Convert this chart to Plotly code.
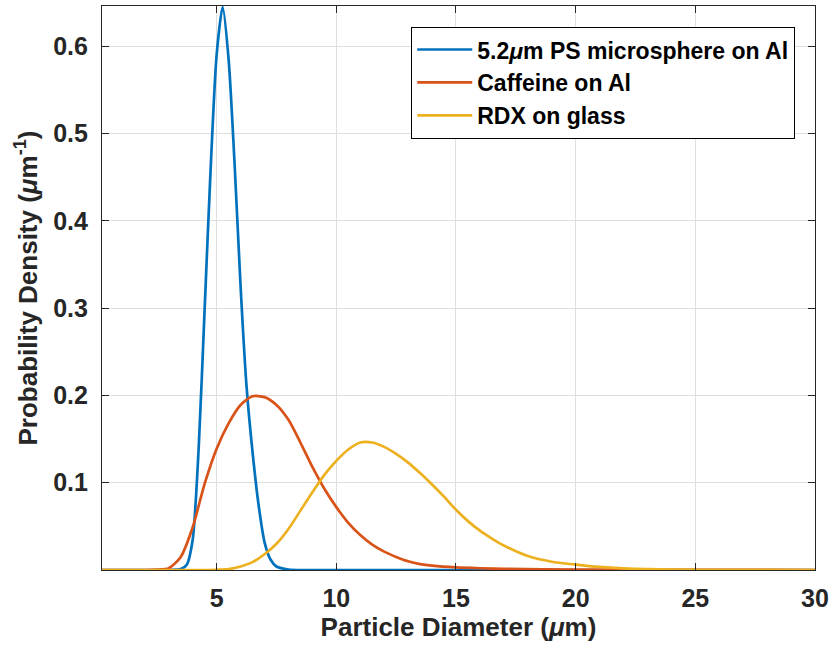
import plotly.graph_objects as go

# Series names
series_names = ["5.2<i>μ</i>m PS microsphere on Al", "Caffeine on Al", "RDX on glass"]
series_colors = ["#0072BD", "#D95319", "#EDB120"]

# Blue: 5.2 um PS microsphere on Al
ps_x = [0.21, 3.0, 3.5, 3.75, 4.0, 4.25, 4.5, 4.75, 5.0, 5.25, 5.5, 5.75, 6.0,
        6.25, 6.5, 6.75, 7.0, 7.25, 7.5, 8.0, 9.0, 30.0]
ps_y = [0.0, 0.0, 0.001, 0.006, 0.035, 0.14, 0.30, 0.46, 0.59, 0.645, 0.585, 0.465, 0.325,
        0.21, 0.135, 0.075, 0.032, 0.012, 0.004, 0.0005, 0.0, 0.0]

# Orange: Caffeine on Al
caf_x = [0.21, 2.0, 2.5, 3.0, 3.5, 4.0, 4.5, 5.0, 5.5, 6.0, 6.5, 7.0, 7.5, 8.0, 8.5,
         9.0, 9.5, 10.0, 10.5, 11.0, 11.5, 12.0, 12.5, 13.0, 13.5, 14.0, 15.0, 16.0,
         17.0, 20.0, 25.0, 30.0]
caf_y = [0.0, 0.0, 0.0004, 0.002, 0.015, 0.049, 0.099, 0.139, 0.168, 0.189, 0.199, 0.198,
         0.189, 0.172, 0.146, 0.118, 0.093, 0.072, 0.054, 0.040, 0.029, 0.021, 0.015,
         0.010, 0.0068, 0.005, 0.003, 0.002, 0.0013, 0.0004, 0.0001, 0.0]

# Yellow: RDX on glass
rdx_x = [0.21, 4.0, 5.0, 5.5, 6.0, 6.5, 7.0, 7.5, 8.0, 8.5, 9.0, 9.5, 10.0, 10.5, 11.0,
         11.5, 12.0, 12.5, 13.0, 13.5, 14.0, 14.5, 15.0, 15.5, 16.0, 16.5, 17.0, 18.0,
         19.0, 20.0, 21.0, 22.0, 23.0, 25.0, 27.0, 30.0]
rdx_y = [0.0, 0.0, 0.0003, 0.001, 0.004, 0.009, 0.018, 0.030, 0.047, 0.068, 0.089, 0.109,
         0.125, 0.138, 0.146, 0.146, 0.141, 0.133, 0.123, 0.111, 0.098, 0.084, 0.069, 0.056,
         0.045, 0.036, 0.028, 0.016, 0.0095, 0.0062, 0.0035, 0.0018, 0.0009, 0.0002,
         0.0001, 0.0]

x_ticks = [5, 10, 15, 20, 25, 30]
y_ticks = [0.1, 0.2, 0.3, 0.4, 0.5, 0.6]

FONT = "Liberation Sans, Arial, sans-serif"
AX = "#262626"

fig = go.Figure()
for xs, ys, name, col in zip([ps_x, caf_x, rdx_x], [ps_y, caf_y, rdx_y],
                             series_names, series_colors):
    fig.add_trace(go.Scatter(x=xs, y=ys, mode="lines", name=name,
                             line=dict(color=col, width=2.7, shape="spline", smoothing=0.7)))

axis_common = dict(
    showline=True, linecolor=AX, linewidth=1.2, mirror="allticks",
    ticks="inside", ticklen=7, tickcolor=AX, tickwidth=1.2,
    showgrid=True, gridcolor="#dedede", gridwidth=1, zeroline=False,
    tickfont=dict(family=FONT, size=25, color=AX, weight="bold"),
)

fig.update_xaxes(range=[0.21, 30], tickvals=x_ticks, ticktext=[str(v) for v in x_ticks],
                 title=dict(text="Particle Diameter (<i>μ</i>m)", standoff=6,
                            font=dict(family=FONT, size=26, color=AX, weight="bold")),
                 ticklabelstandoff=6, **axis_common)
fig.update_yaxes(range=[0, 0.646], tickvals=y_ticks, ticktext=[str(v) for v in y_ticks],
                 title=dict(text="Probability Density (<i>μ</i>m<sup>-1</sup>)", standoff=8,
                            font=dict(family=FONT, size=26, color=AX, weight="bold")),
                 ticklabelstandoff=8, **axis_common)

fig.update_layout(
    width=835, height=645,
    margin=dict(l=102, r=20, t=6, b=75),
    paper_bgcolor="white", plot_bgcolor="white",
    showlegend=True,
    legend=dict(x=0.972, y=0.963, xanchor="right", yanchor="top",
                bgcolor="white", bordercolor="#000000", borderwidth=1.2,
                font=dict(family=FONT, size=23, color="#000000", weight="bold"),
                tracegroupgap=0, itemwidth=55),
)

fig.write_html("out.html")
